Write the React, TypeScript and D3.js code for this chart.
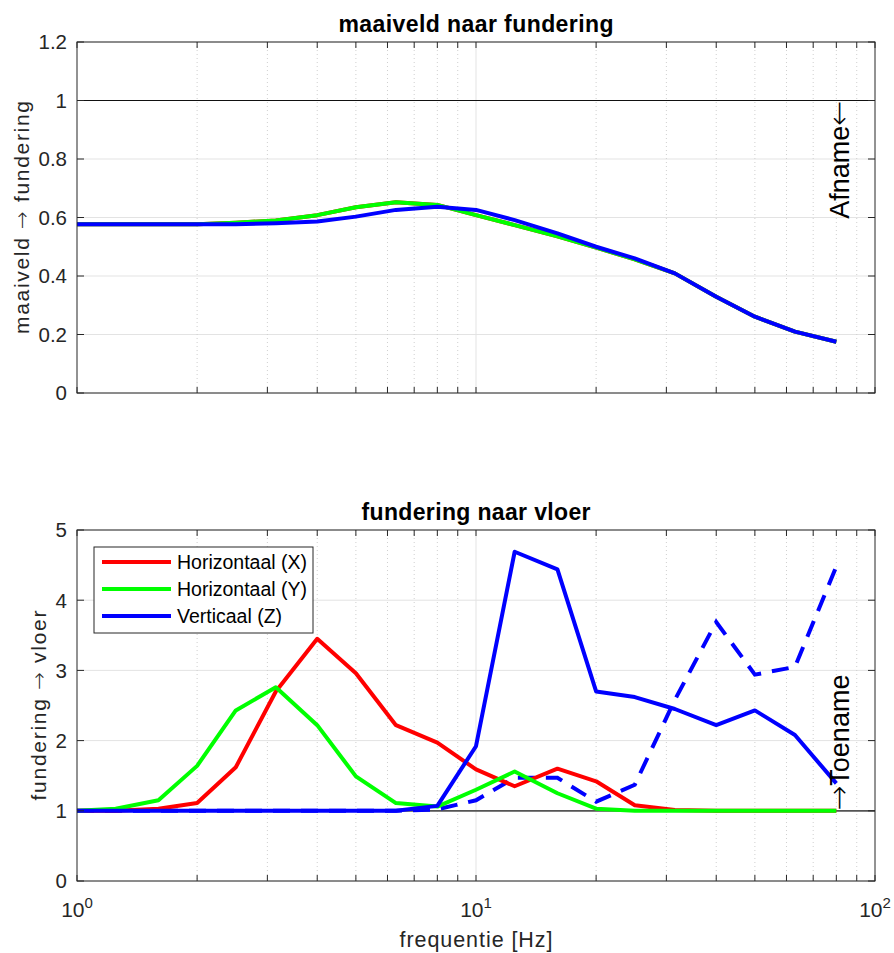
import { useEffect, useRef } from "react";
import * as d3 from "d3";

// 1/3-octave band centre frequencies [Hz]
const freq = [1, 1.25, 1.6, 2, 2.5, 3.15, 4, 5, 6.3, 8, 10, 12.5, 16, 20, 25, 31.5, 40, 50, 63, 80];

// maaiveld -> fundering
const topX = [0.577, 0.577, 0.577, 0.577, 0.582, 0.59, 0.608, 0.635, 0.652, 0.643, 0.608, 0.574, 0.536, 0.497, 0.457, 0.409, 0.329, 0.261, 0.21, 0.175];
const topY = [0.577, 0.577, 0.577, 0.577, 0.582, 0.59, 0.608, 0.635, 0.652, 0.643, 0.608, 0.574, 0.536, 0.497, 0.457, 0.409, 0.329, 0.261, 0.21, 0.175];
const topZ = [0.577, 0.577, 0.577, 0.577, 0.577, 0.58, 0.586, 0.603, 0.626, 0.637, 0.626, 0.591, 0.546, 0.5, 0.46, 0.409, 0.329, 0.261, 0.21, 0.175];

// fundering -> vloer
const botX = [1.0, 1.0, 1.03, 1.11, 1.62, 2.7, 3.45, 2.96, 2.22, 1.97, 1.59, 1.35, 1.6, 1.42, 1.08, 1.01, 1.0, 1.0, 1.0, 1.0];
const botY = [1.0, 1.03, 1.15, 1.64, 2.43, 2.76, 2.22, 1.49, 1.11, 1.06, 1.3, 1.56, 1.25, 1.03, 1.0, 1.0, 1.0, 1.0, 1.0, 1.0];
const botZ = [1.0, 1.0, 1.0, 1.0, 1.0, 1.0, 1.0, 1.0, 1.0, 1.07, 1.92, 4.69, 4.44, 2.7, 2.62, 2.45, 2.22, 2.43, 2.08, 1.39];
const botZdash = [1.0, 1.0, 1.0, 1.0, 1.0, 1.0, 1.0, 1.0, 1.0, 1.02, 1.15, 1.47, 1.47, 1.13, 1.37, 2.58, 3.69, 2.94, 3.05, 4.48];

const topYTicks = [0, 0.2, 0.4, 0.6, 0.8, 1, 1.2];
const botYTicks = [0, 1, 2, 3, 4, 5];
const xMajor = [1, 10, 100];
const xExp = ["0", "1", "2"];
const legendLabels = ["Horizontaal (X)", "Horizontaal (Y)", "Verticaal (Z)"];
const colors = ["#ff0000", "#00ff00", "#0000ff"];

const FONT = "'Liberation Sans', Arial, Helvetica, sans-serif";
const ARROWFONT = "'DejaVu Sans ExtraLight', 'DejaVu Sans', sans-serif";
const AX = "#262626";

export default function App() {
  const ref = useRef<SVGSVGElement>(null);

  useEffect(() => {
    const svg = d3.select(ref.current);
    svg.selectAll("*").remove();

    const left = 77, right = 875;
    const x = d3.scaleLog().domain([1, 100]).range([left, right]);
    const xMinor: number[] = [];
    [1, 10].forEach((d) => {
      for (let k = 2; k <= 9; k++) xMinor.push(d * k);
    });

    // text with an arrow glyph taken from DejaVu (bigger, thin arrows)
    const arrowText = (sel: any, parts: string[], arrowSize?: number) => {
      parts.forEach((p) => {
        const isArrow = p === "\u2192" || p === "\u2190";
        const ts = sel.append("tspan").attr("font-family", isArrow ? ARROWFONT : FONT).text(p);
        if (isArrow) {
          ts.attr("font-weight", 200);
          if (arrowSize) ts.attr("font-size", arrowSize);
        }
      });
    };

    const drawPanel = (opts: any) => {
      const { top, bottom, yMax, yTicks, title, titleLen, ylabelParts, ylabelX, ylabelLen, series, dashed, refColor, refWidth } = opts;
      const y = d3.scaleLinear().domain([0, yMax]).range([bottom, top]);
      const g = svg.append("g");

      // grid
      g.selectAll(".ygrid")
        .data(yTicks)
        .enter()
        .append("line")
        .attr("x1", left)
        .attr("x2", right)
        .attr("y1", (d: number) => y(d))
        .attr("y2", (d: number) => y(d))
        .attr("stroke", "#e3e3e3")
        .attr("stroke-width", 1);
      g.selectAll(".xminor")
        .data(xMinor)
        .enter()
        .append("line")
        .attr("x1", (d: number) => x(d))
        .attr("x2", (d: number) => x(d))
        .attr("y1", top)
        .attr("y2", bottom)
        .attr("stroke", "#cfcfcf")
        .attr("stroke-width", 1)
        .attr("stroke-dasharray", "1,3");
      g.append("line")
        .attr("x1", x(10))
        .attr("x2", x(10))
        .attr("y1", top)
        .attr("y2", bottom)
        .attr("stroke", "#e3e3e3");

      // reference line at 1
      g.append("line")
        .attr("x1", left)
        .attr("x2", right)
        .attr("y1", y(1))
        .attr("y2", y(1))
        .attr("stroke", refColor)
        .attr("stroke-width", refWidth);

      const line = d3
        .line<number>()
        .x((_d, i) => x(freq[i]))
        .y((d) => y(d));

      if (dashed) {
        g.append("path")
          .attr("d", line(dashed))
          .attr("fill", "none")
          .attr("stroke", colors[2])
          .attr("stroke-width", 4)
          .attr("stroke-dasharray", "17,11");
      }
      series.forEach((s: number[], i: number) => {
        g.append("path")
          .attr("d", line(s))
          .attr("fill", "none")
          .attr("stroke", colors[i])
          .attr("stroke-width", 4)
          .attr("stroke-linejoin", "round");
      });

      // box
      g.append("rect")
        .attr("x", left)
        .attr("y", top)
        .attr("width", right - left)
        .attr("height", bottom - top)
        .attr("fill", "none")
        .attr("stroke", AX)
        .attr("stroke-width", 1);

      // ticks (inside, mirrored)
      const tl = 6;
      [...xMajor, ...xMinor].forEach((d) => {
        g.append("line").attr("x1", x(d)).attr("x2", x(d)).attr("y1", bottom).attr("y2", bottom - tl).attr("stroke", AX);
        g.append("line").attr("x1", x(d)).attr("x2", x(d)).attr("y1", top).attr("y2", top + tl).attr("stroke", AX);
      });
      yTicks.forEach((d: number) => {
        g.append("line").attr("x1", left).attr("x2", left + 7).attr("y1", y(d)).attr("y2", y(d)).attr("stroke", AX);
        g.append("line").attr("x1", right).attr("x2", right - 7).attr("y1", y(d)).attr("y2", y(d)).attr("stroke", AX);
      });

      // y tick labels
      g.selectAll(".ylab")
        .data(yTicks)
        .enter()
        .append("text")
        .attr("x", left - 10)
        .attr("y", (d: number) => y(d))
        .attr("dy", "0.36em")
        .attr("text-anchor", "end")
        .attr("font-family", FONT)
        .attr("font-size", 20.5)
        .attr("fill", AX)
        .text((d: number) => String(d));

      // title
      g.append("text")
        .attr("x", (left + right) / 2)
        .attr("y", top - 10)
        .attr("text-anchor", "middle")
        .attr("font-family", FONT)
        .attr("font-size", 23)
        .attr("font-weight", "bold")
        .attr("textLength", titleLen)
        .attr("lengthAdjust", "spacing")
        .attr("fill", "#000")
        .text(title);

      // y label
      const yl = g.append("text")
        .attr("transform", `translate(${ylabelX},${(top + bottom) / 2}) rotate(-90)`)
        .attr("text-anchor", "middle")
        .attr("font-size", 21)
        .attr("font-family", FONT)
        .attr("textLength", ylabelLen)
        .attr("lengthAdjust", "spacing")
        .attr("fill", AX);
      arrowText(yl, ylabelParts);

      return { g, y };
    };

    // top panel
    const p1 = drawPanel({
      top: 42,
      bottom: 393,
      yMax: 1.2,
      yTicks: topYTicks,
      title: "maaiveld naar fundering",
      titleLen: 275,
      ylabelParts: ["maaiveld ", "\u2192", " fundering"],
      ylabelX: 29,
      ylabelLen: 233,
      series: [topX, topY, topZ],
      dashed: null,
      refColor: "#111",
      refWidth: 1.2,
    });
    const a1 = p1.g.append("text")
      .attr("transform", `translate(${x(80) + 3},${p1.y(1)}) rotate(-90)`)
      .attr("dy", "0.35em")
      .attr("text-anchor", "end")
      .attr("font-size", 27)
      .attr("fill", "#000");
    arrowText(a1, ["Afname", "\u2190"], 30);

    // bottom panel
    const p2 = drawPanel({
      top: 530,
      bottom: 881,
      yMax: 5,
      yTicks: botYTicks,
      title: "fundering naar vloer",
      titleLen: 229,
      ylabelParts: ["fundering ", "\u2192", " vloer"],
      ylabelX: 46,
      ylabelLen: 190,
      series: [botX, botY, botZ],
      dashed: botZdash,
      refColor: "#555",
      refWidth: 1.8,
    });
    const a2 = p2.g.append("text")
      .attr("transform", `translate(${x(80) + 3},${p2.y(1)}) rotate(-90)`)
      .attr("dy", "0.35em")
      .attr("text-anchor", "start")
      .attr("font-size", 27)
      .attr("fill", "#000");
    arrowText(a2, ["\u2192", "Toename"], 30);

    // x tick labels
    xMajor.forEach((d, i) => {
      const t = p2.g
        .append("text")
        .attr("x", x(d))
        .attr("y", 917)
        .attr("text-anchor", "middle")
        .attr("font-family", FONT)
        .attr("font-size", 21)
        .attr("fill", AX);
      t.append("tspan").text("10");
      t.append("tspan").attr("dy", -9).attr("font-size", 15).text(xExp[i]);
    });
    p2.g.append("text")
      .attr("x", (left + right) / 2)
      .attr("y", 947)
      .attr("text-anchor", "middle")
      .attr("font-family", FONT)
      .attr("font-size", 21.5)
      .attr("textLength", 153)
      .attr("lengthAdjust", "spacing")
      .attr("fill", AX)
      .text("frequentie [Hz]");

    // legend
    const lg = svg.append("g");
    lg.append("rect")
      .attr("x", 94)
      .attr("y", 547)
      .attr("width", 219)
      .attr("height", 86)
      .attr("fill", "#fff")
      .attr("stroke", AX)
      .attr("stroke-width", 1);
    legendLabels.forEach((lab, i) => {
      const yy = 562 + i * 27;
      lg.append("line")
        .attr("x1", 102)
        .attr("x2", 171)
        .attr("y1", yy)
        .attr("y2", yy)
        .attr("stroke", colors[i])
        .attr("stroke-width", 4);
      lg.append("text")
        .attr("x", 177)
        .attr("y", yy)
        .attr("dy", "0.36em")
        .attr("font-family", FONT)
        .attr("font-size", 19.5)
        .attr("fill", "#000")
        .text(lab);
    });
  }, []);

  return (
    <svg
      ref={ref}
      width={894}
      height={953}
      style={{ position: "absolute", left: 0, top: 0, background: "#fff" }}
    />
  );
}
